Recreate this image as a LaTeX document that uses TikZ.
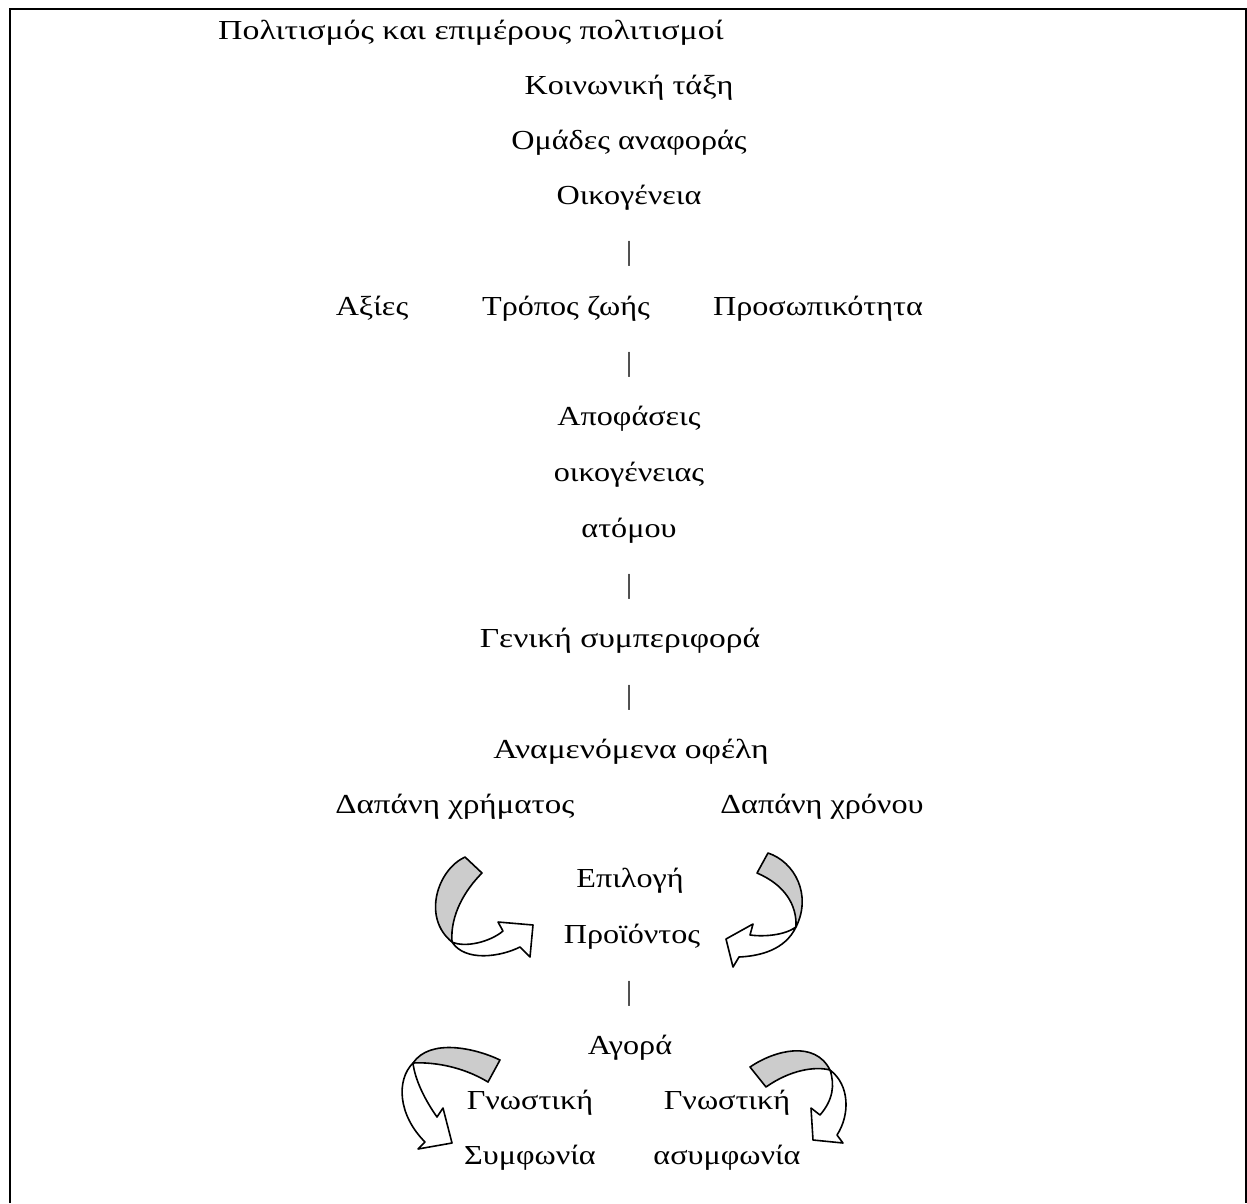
\documentclass[tikz,border=0pt]{standalone}
\usepackage{fontspec}
\setmainfont{Liberation Serif}
\newcommand\wtxt[1]{\scalebox{1.17}[1]{#1}}
\begin{document}
\begin{tikzpicture}[x=1pt,y=-1pt,
  txt/.style={font=\fontsize{27.5}{32}\selectfont, anchor=base, inner sep=0pt},
  band/.style={draw=black, line width=1.6pt, line join=round},
  grayband/.style={band, fill=black!20},
  whiteband/.style={band, fill=white}]
\useasboundingbox (0,0) rectangle (1247,1203);
% frame
\draw[line width=2pt] (10,1203) -- (10,9) -- (1246,9) -- (1246,1203);
% texts
\node[txt] (pol)  at (471,39)  {\scalebox{1.23}[1]{Πολιτισμός και επιμέρους πολιτισμοί}};
\node[txt] (koin) at (629,94)  {\wtxt{Κοινωνική τάξη}};
\node[txt] (omad) at (629,149) {\wtxt{Ομάδες αναφοράς}};
\node[txt] (oik)  at (629,204) {\wtxt{Οικογένεια}};
\node[txt] (b1)   at (629,260) {|};
\node[txt] (axi)  at (372,315) {\wtxt{Αξίες}};
\node[txt] (trop) at (566,315) {\wtxt{Τρόπος ζωής}};
\node[txt] (pros) at (818,315) {\wtxt{Προσωπικότητα}};
\node[txt] (b2)   at (629,371) {|};
\node[txt] (apof) at (629,425) {\wtxt{Αποφάσεις}};
\node[txt] (oikg) at (629,481) {\wtxt{οικογένειας}};
\node[txt] (atom) at (629,537) {\wtxt{ατόμου}};
\node[txt] (b3)   at (629,593) {|};
\node[txt] (gen)  at (620,647) {\scalebox{1.22}[1]{Γενική συμπεριφορά}};
\node[txt] (b4)   at (629,704) {|};
\node[txt] (anam) at (631,758) {\scalebox{1.22}[1]{Αναμενόμενα οφέλη}};
\node[txt] (dxr)  at (455,813) {\scalebox{1.2}[1]{Δαπάνη χρήματος}};
\node[txt] (dxo)  at (822,813) {\wtxt{Δαπάνη χρόνου}};
\node[txt] (epil) at (630,887) {\wtxt{Επιλογή}};
\node[txt] (proi) at (632,943) {\wtxt{Προϊόντος}};
\node[txt] (b5)   at (629,1000) {|};
\node[txt] (agor) at (630,1054) {\wtxt{Αγορά}};
\node[txt] (gn1)  at (530,1109) {\wtxt{Γνωστική}};
\node[txt] (gn2)  at (727,1109) {\wtxt{Γνωστική}};
\node[txt] (sym)  at (530,1164) {\wtxt{Συμφωνία}};
\node[txt] (asym) at (727,1164) {\wtxt{ασυμφωνία}};
% curved arrow 1 (upper left)
\draw[whiteband] (452,942) .. controls (465,948) and (490,942) .. (503,931)
  -- (498,922) -- (533,925) -- (530,957) -- (520,947)
  .. controls (500,957) and (465,962) .. (452,942) -- cycle;
\draw[grayband] (465,857) .. controls (437,870) and (422,918) .. (452,942)
  .. controls (450,915) and (465,890) .. (482,873) -- cycle;
% curved arrow 2 (upper right)
\draw[whiteband] (796,927) .. controls (785,935) and (765,937) .. (750,935)
  -- (753,924) -- (726,939) -- (733,967) -- (739,957)
  .. controls (760,956) and (785,950) .. (796,927) -- cycle;
\draw[grayband] (768,853) .. controls (795,862) and (812,895) .. (796,927)
  .. controls (797,905) and (785,885) .. (757,873) -- cycle;
% curved arrow 3 (lower left)
\draw[whiteband] (413,1063) .. controls (396,1080) and (398,1115) .. (425,1142)
  -- (418,1149) -- (452,1143) -- (443,1108) -- (437,1117)
  .. controls (425,1100) and (415,1080) .. (413,1063) -- cycle;
\draw[grayband] (500,1060) .. controls (475,1048) and (430,1038) .. (413,1063)
  .. controls (430,1062) and (460,1065) .. (488,1082) -- cycle;
% curved arrow 4 (lower right)
\draw[whiteband] (830,1070) .. controls (850,1085) and (850,1115) .. (837,1135)
  -- (843,1143) -- (813,1140) -- (811,1108) -- (820,1115)
  .. controls (833,1100) and (835,1085) .. (830,1070) -- cycle;
\draw[grayband] (750,1067) .. controls (775,1050) and (815,1040) .. (830,1070)
  .. controls (815,1066) and (790,1070) .. (766,1087) -- cycle;
\end{tikzpicture}
\end{document}
